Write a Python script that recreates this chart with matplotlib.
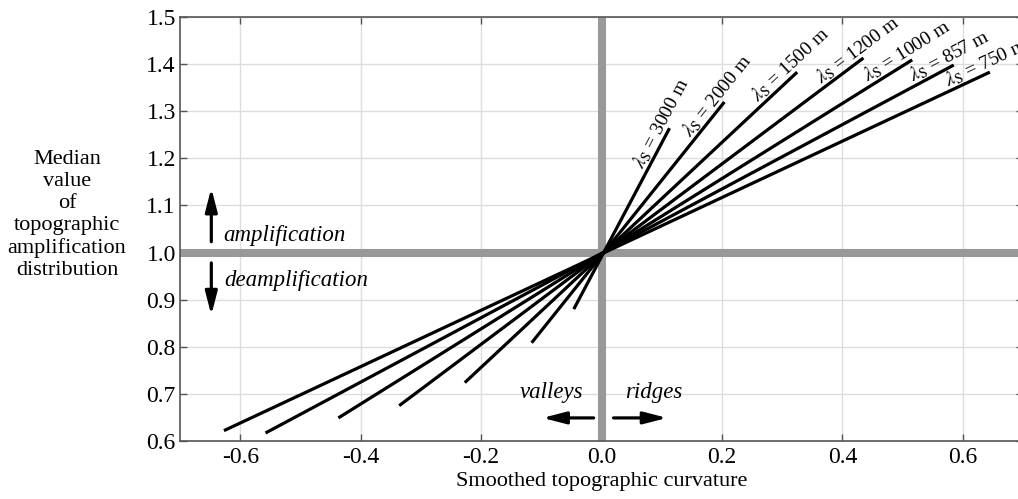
import numpy as np
import matplotlib
matplotlib.use("Agg")
import matplotlib.pyplot as plt

plt.rcParams['font.family'] = ['Liberation Serif', 'DejaVu Serif']
plt.rcParams['mathtext.fontset'] = 'stix'

# ---- data ----
wavelengths = [3000, 2000, 1500, 1200, 1000, 857, 750]
x_min = [-0.046, -0.116, -0.227, -0.336, -0.437, -0.558, -0.627]
y_min = [0.880, 0.8085, 0.724, 0.675, 0.649, 0.617, 0.622]
x_max = [0.113, 0.204, 0.325, 0.435, 0.516, 0.585, 0.645]
y_max = [1.264, 1.3195, 1.383, 1.413, 1.409, 1.398, 1.383]
x_ticks = [-0.6, -0.4, -0.2, 0.0, 0.2, 0.4, 0.6]
y_ticks = [0.6, 0.7, 0.8, 0.9, 1.0, 1.1, 1.2, 1.3, 1.4, 1.5]

W, H = 1018, 499
fig = plt.figure(figsize=(W / 100, H / 100), dpi=100)
ax = fig.add_axes([180 / W, (H - 441) / H, (1023 - 180) / W, (441 - 17) / H])
ax.set_xlim(-0.7, 0.7)
ax.set_ylim(0.6, 1.5)

ax.set_xticks(x_ticks)
ax.set_xticklabels([f"{v:.1f}" for v in x_ticks])
ax.set_yticks(y_ticks)
ax.set_yticklabels([f"{v:.1f}" for v in y_ticks])
ax.tick_params(direction='in', length=5, width=1, color='#555555',
               labelsize=17, top=True, right=True)
ax.tick_params(axis='y', pad=3)
ax.tick_params(axis='x', pad=4)
ax.grid(True, color='#dddddd', lw=1.0, zorder=0)
ax.set_axisbelow(True)
for s in ['left', 'bottom', 'top']:
    ax.spines[s].set_color('#555555')
    ax.spines[s].set_linewidth(1.2)
ax.spines['right'].set_visible(False)

ax.axhline(1.0, color='#999999', lw=5.8, zorder=1)
ax.axvline(0.0, color='#999999', lw=5.8, zorder=1)

for lam, x0, y0, x1, y1 in zip(wavelengths, x_min, y_min, x_max, y_max):
    ax.plot([x0, x1], [y0, y1], color='black', lw=2.3, solid_capstyle='butt', zorder=3)

fig.canvas.draw()
off_px = 10
for lam, x0, y0, x1, y1 in zip(wavelengths, x_min, y_min, x_max, y_max):
    p0 = ax.transData.transform((x0, y0))
    p1 = ax.transData.transform((x1, y1))
    ang = np.degrees(np.arctan2(p1[1] - p0[1], p1[0] - p0[0]))
    r = np.radians(ang)
    ox, oy = -np.sin(r) * off_px * 0.72, np.cos(r) * off_px * 0.72
    ax.annotate(r'$\lambda_{\mathrm{S}}$' + f' = {lam} m', xy=(x1, y1),
                xytext=(ox, oy), textcoords='offset points',
                ha='center', va='center', rotation=ang, rotation_mode='anchor',
                fontsize=14, annotation_clip=False, zorder=4)

arrow_kw = dict(arrowstyle='-|>,head_length=0.7,head_width=0.18', lw=2.3,
                color='black', shrinkA=0, shrinkB=0, mutation_scale=20)
ax.annotate('', xy=(-0.648, 1.137), xytext=(-0.648, 1.023), arrowprops=arrow_kw)
ax.annotate('', xy=(-0.648, 0.867), xytext=(-0.648, 0.978), arrowprops=arrow_kw)
ax.annotate('', xy=(-0.098, 0.649), xytext=(-0.013, 0.649), arrowprops=arrow_kw)
ax.annotate('', xy=(0.109, 0.649), xytext=(0.020, 0.649), arrowprops=arrow_kw)

ax.text(-0.628, 1.036, 'amplification', style='italic', fontsize=16.5, ha='left', va='center')
ax.text(-0.626, 0.940, 'deamplification', style='italic', fontsize=16.5, ha='left', va='center')
ax.text(-0.083, 0.703, 'valleys', style='italic', fontsize=16.5, ha='center', va='center')
ax.text(0.087, 0.703, 'ridges', style='italic', fontsize=16.5, ha='center', va='center')

ax.set_xlabel('Smoothed topographic curvature', fontsize=16, labelpad=3)
fig.text(67 / W, 1 - 215 / H,
         'Median\nvalue\nof\ntopographic\namplification\ndistribution',
         ha='center', va='center', fontsize=16, linespacing=1.2)

fig.savefig('out.png', dpi=100)
